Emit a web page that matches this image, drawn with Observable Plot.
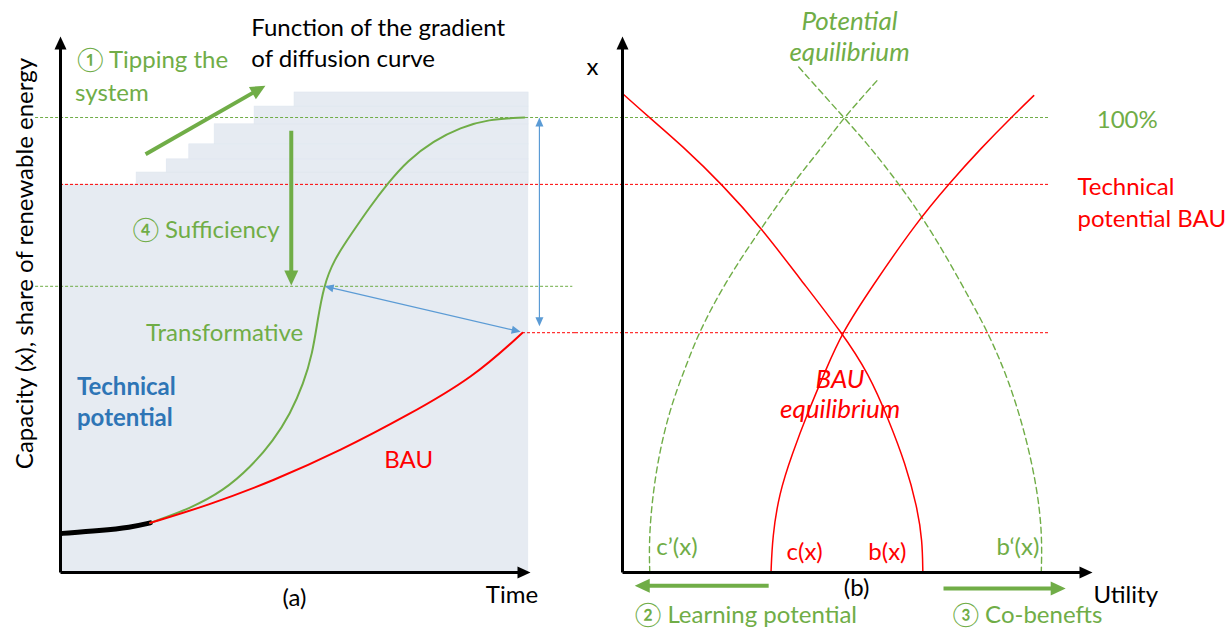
<!DOCTYPE html>
<html><head><meta charset="utf-8">
<script src="https://cdn.jsdelivr.net/npm/d3@7"></script>
<script src="https://cdn.jsdelivr.net/npm/@observablehq/plot@0.6"></script>
<style>
html,body{margin:0;padding:0;background:#fff;}
#wrap{position:relative;width:1228px;height:631px;overflow:hidden;}
#wrap svg{position:absolute;left:0;top:0;}
</style></head>
<body><div id="wrap"></div>
<script>
// ---------------- DATA ----------------
// shared vertical quantity: capacity x / share of renewable energy (%)
const levelFull = 100, levelTechBAU = 85.3, levelSuff = 62.9, levelBAU = 52.7, yAxisTop = 117.8;

// Panel (a): time (0–10) vs capacity share
const legacyTime  = [0.04, 0.85, 1.49, 1.91];
const legacyShare = [8.6, 9.2, 9.9, 10.9];
const bauTime  = [1.91, 3.12, 4.54, 5.96, 7.38, 8.79, 9.83];
const bauShare = [10.9, 14.7, 20.2, 26.8, 34.5, 42.9, 52.7];
const transTime  = [1.91, 2.77, 3.47, 4.04, 4.53, 4.89, 5.17, 5.36, 5.47, 5.60, 5.81, 6.20, 6.58, 6.96, 7.38, 7.94, 8.51, 9.09, 9.87];
const transShare = [10.9, 14.1, 18.0, 23.1, 29.0, 34.9, 41.5, 48.1, 55.4, 62.9, 68.6, 74.6, 80.3, 85.5, 90.5, 94.9, 97.8, 99.6, 100];
const potentialEnd = 9.96;
const stepStart = [1.62, 2.26, 2.74, 3.28, 4.13, 4.98];
const stepTop   = [87.9, 90.8, 94.1, 98.5, 102.4, 105.5];

// Panel (b): utility (0–10) vs capacity x
const bCurveU = [0.03, 0.56, 1.27, 2.12, 2.97, 3.75, 4.67, 5.24, 5.67, 6.02, 6.27, 6.38, 6.39];
const bCurveX = [105.0, 100.1, 93.8, 85.3, 75.5, 64.9, 52.7, 43.7, 33.4, 23.9, 14.4, 7.0, 0];
const cCurveU = [3.16, 3.19, 3.33, 3.61, 3.96, 4.32, 4.67, 5.30, 6.23, 6.94, 7.65, 8.29, 8.75];
const cCurveX = [0, 7.8, 17.3, 26.1, 35.6, 44.4, 52.7, 62.7, 76.6, 85.4, 93.5, 100.2, 104.8];
const cPrimeU = [0.58, 0.56, 0.70, 0.99, 1.34, 1.62, 2.19, 2.94, 3.61, 4.25, 4.71, 5.45];
const cPrimeX = [0, 8.5, 22.4, 35.6, 45.1, 52.7, 63.9, 75.5, 85.4, 93.5, 100, 108.5];
const bPrimeU = [3.75, 4.71, 5.28, 5.88, 6.38, 6.94, 7.44, 7.79, 8.22, 8.57, 8.82, 8.93, 8.91];
const bPrimeX = [111.1, 100, 93.4, 85.4, 78.1, 68.6, 59.1, 52.5, 42.2, 30.5, 18.7, 8.5, 0];

// reference lines per panel
const refLinesA = [
  {y: levelFull, x1: -0.53, x2: 11.0, c: "#70AD47"},
  {y: levelTechBAU, x1: 0, x2: 11.0, c: "#FF0000"},
  {y: levelSuff, x1: -0.53, x2: 10.9, c: "#70AD47"},
  {y: levelBAU, x1: 9.83, x2: 11.0, c: "#FF0000"}
];
const refLinesB = [
  {y: levelFull, x1: -1.0, x2: 9.1, c: "#70AD47"},
  {y: levelTechBAU, x1: -1.0, x2: 9.1, c: "#FF0000"},
  {y: levelBAU, x1: -1.0, x2: 9.1, c: "#FF0000"}
];

// arrows
const arrowsA = [
  {x1: 0, y1: 0, x2: 0, y2: yAxisTop, c: "#000", w: 3, len: 13, half: 6},
  {x1: 0, y1: 0, x2: 10, y2: 0, c: "#000", w: 3, len: 13, half: 6},
  {x1: 1.81, y1: 91.9, x2: 4.36, y2: 107.0, c: "#70AD47", w: 4, len: 15, half: 7},
  {x1: 4.91, y1: 97.1, x2: 4.91, y2: 63.1, c: "#70AD47", w: 4, len: 15, half: 7},
  {x1: 10.19, y1: 54.1, x2: 10.19, y2: 100, c: "#5B9BD5", w: 1.2, len: 9, half: 4, double: true},
  {x1: 5.62, y1: 62.9, x2: 9.79, y2: 52.9, c: "#5B9BD5", w: 1.2, len: 9, half: 4, double: true}
];
const arrowsB = [
  {x1: 0, y1: 0, x2: 0, y2: yAxisTop, c: "#000", w: 3, len: 13, half: 6},
  {x1: 0, y1: 0, x2: 10, y2: 0, c: "#000", w: 3, len: 13, half: 6},
  {x1: 3.11, y1: -2.9, x2: 0.26, y2: -2.9, c: "#70AD47", w: 4, len: 15, half: 7},
  {x1: 6.83, y1: -3.5, x2: 9.43, y2: -3.5, c: "#70AD47", w: 4, len: 15, half: 7}
];

// labels
const labelsA = {
  black: [{x: 4.06, y: 119.6, t: "Function of the gradient"}, {x: 4.06, y: 112.7, t: "of diffusion curve"},
          {x: 9.05, y: -5.1, t: "Time"}],
  blackMid: [{x: 4.98, y: -5.7, t: "(a)"}],
  green: [{x: 0.35, y: 112.5, t: "① Tipping the"}, {x: 0.31, y: 105.3, t: "system"},
          {x: 1.53, y: 75.2, t: "④ Sufficiency"}, {x: 1.82, y: 52.5, t: "Transformative"}],
  blue: [{x: 0.35, y: 40.7, t: "Technical"}, {x: 0.35, y: 33.8, t: "potential"}],
  red: [{x: 6.89, y: 24.6, t: "BAU"}],
  yTitle: [{x: -0.74, y: 67.9, t: "Capacity (x), share of renewable energy"}]
};
const labelsB = {
  black: [{x: 10.02, y: -5.1, t: "Utility"}],
  blackMid: [{x: -0.64, y: 111, t: "x"}, {x: 4.98, y: -3.5, t: "(b)"}],
  green: [{x: 10.09, y: 99.3, t: "100%"}, {x: 0.72, y: 5.5, t: "c’(x)"}, {x: 7.96, y: 5.5, t: "b‘(x)"},
          {x: 0.26, y: -9.4, t: "② Learning potential"}, {x: 7.02, y: -9.4, t: "③ Co-benefts"}],
  greenItalic: [{x: 4.83, y: 121.1, t: "Potential"}, {x: 4.83, y: 114.3, t: "equilibrium"}],
  red: [{x: 9.68, y: 84.6, t: "Technical"}, {x: 9.68, y: 77.6, t: "potential BAU"},
        {x: 3.49, y: 4.4, t: "c(x)"}, {x: 5.23, y: 4.4, t: "b(x)"}],
  redItalic: [{x: 4.63, y: 42.4, t: "BAU"}, {x: 4.63, y: 35.8, t: "equilibrium"}]
};

// ---------------- LAYOUT ----------------
const W = 1228, H = 631;
const mTop = 117, mBottom = 59;
const sy = (H - mTop - mBottom) / 100;
const FONT = "Lato, 'Noto Sans', sans-serif";
const FS = 24;
const GREEN = "#70AD47", RED = "#FF0000", BLUE = "#2E75B6";
const CURVE = "basis";

function arrowMarks(list, sx) {
  const marks = [];
  for (const a of list) {
    const dx = (a.x2 - a.x1) * sx, dy = (a.y2 - a.y1) * sy;
    const L = Math.hypot(dx, dy), ux = dx / L, uy = dy / L;
    const head = (x, y, vx, vy) => {
      const bx = -vx * a.len, by = -vy * a.len, px = -vy * a.half, py = vx * a.half;
      return [{x, y}, {x: x + (bx + px) / sx, y: y + (by + py) / sy}, {x: x + (bx - px) / sx, y: y + (by - py) / sy}];
    };
    const k = a.len * 0.8;
    const s = {x1: a.x1, y1: a.y1, x2: a.x2 - ux * k / sx, y2: a.y2 - uy * k / sy};
    marks.push(Plot.line(head(a.x2, a.y2, ux, uy), {x: "x", y: "y", fill: a.c, stroke: "none"}));
    if (a.double) {
      s.x1 = a.x1 + ux * k / sx; s.y1 = a.y1 + uy * k / sy;
      marks.push(Plot.line(head(a.x1, a.y1, -ux, -uy), {x: "x", y: "y", fill: a.c, stroke: "none"}));
    }
    marks.push(Plot.link([s], {x1: "x1", y1: "y1", x2: "x2", y2: "y2", stroke: a.c, strokeWidth: a.w}));
  }
  return marks;
}
const txt = (arr, o) => Plot.text(arr, {x: "x", y: "y", text: "t", fontSize: FS, textAnchor: "start", fill: "#000", ...o});
const rules = (arr) => arr.map(r => Plot.ruleY([r], {y: "y", x1: "x1", x2: "x2", stroke: r.c, strokeWidth: 1, strokeDasharray: "3,2"}));

// ---------------- PANEL (a) ----------------
const mLeftA = 60, mRightA = W - 530;
const sxA = (W - mLeftA - mRightA) / 10;
const steps = stepStart.map((s, i) => ({x1: s, x2: potentialEnd, y1: i === 0 ? levelTechBAU : stepTop[i - 1], y2: stepTop[i]}));
const plotA = Plot.plot({
  width: W, height: H,
  marginLeft: mLeftA, marginRight: mRightA, marginTop: mTop, marginBottom: mBottom,
  x: {domain: [0, 10], axis: null},
  y: {domain: [0, 100], axis: null},
  style: {background: "transparent", fontFamily: FONT, overflow: "visible"},
  marks: [
    Plot.rect([{x1: 0, x2: potentialEnd, y1: 0, y2: levelTechBAU}], {x1: "x1", x2: "x2", y1: "y1", y2: "y2", fill: "#E6EBF2"}),
    Plot.rect(steps, {x1: "x1", x2: "x2", y1: "y1", y2: "y2", fill: "#E6EBF2", stroke: "#DFE6EF", strokeWidth: 0.6}),
    ...rules(refLinesA),
    Plot.line(legacyTime.map((t, i) => ({t, s: legacyShare[i]})), {x: "t", y: "s", stroke: "#000", strokeWidth: 5, curve: CURVE}),
    Plot.line(transTime.map((t, i) => ({t, s: transShare[i]})), {x: "t", y: "s", stroke: GREEN, strokeWidth: 2, curve: CURVE}),
    Plot.line(bauTime.map((t, i) => ({t, s: bauShare[i]})), {x: "t", y: "s", stroke: RED, strokeWidth: 2, curve: CURVE}),
    ...arrowMarks(arrowsA, sxA),
    txt(labelsA.black, {}),
    txt(labelsA.blackMid, {textAnchor: "middle"}),
    txt(labelsA.green, {fill: GREEN}),
    txt(labelsA.blue, {fill: BLUE, fontWeight: "bold"}),
    txt(labelsA.red, {fill: RED}),
    txt(labelsA.yTitle, {textAnchor: "middle", rotate: -90, fontSize: 24})
  ]
});

// ---------------- PANEL (b) ----------------
const mLeftB = 622, mRightB = W - 1092;
const sxB = (W - mLeftB - mRightB) / 10;
const pts = (us, xs) => us.map((u, i) => ({u, x: xs[i]}));
const plotB = Plot.plot({
  width: W, height: H,
  marginLeft: mLeftB, marginRight: mRightB, marginTop: mTop, marginBottom: mBottom,
  x: {domain: [0, 10], axis: null},
  y: {domain: [0, 100], axis: null},
  style: {background: "transparent", fontFamily: FONT, overflow: "visible"},
  marks: [
    ...rules(refLinesB),
    Plot.line(pts(cPrimeU, cPrimeX), {x: "u", y: "x", stroke: GREEN, strokeWidth: 1.4, strokeDasharray: "6,4", curve: CURVE}),
    Plot.line(pts(bPrimeU, bPrimeX), {x: "u", y: "x", stroke: GREEN, strokeWidth: 1.4, strokeDasharray: "6,4", curve: CURVE}),
    Plot.line(pts(bCurveU, bCurveX), {x: "u", y: "x", stroke: RED, strokeWidth: 1.5, curve: CURVE}),
    Plot.line(pts(cCurveU, cCurveX), {x: "u", y: "x", stroke: RED, strokeWidth: 1.5, curve: CURVE}),
    ...arrowMarks(arrowsB, sxB),
    txt(labelsB.black, {}),
    txt(labelsB.blackMid, {textAnchor: "middle"}),
    txt(labelsB.green, {fill: GREEN}),
    txt(labelsB.greenItalic, {fill: GREEN, fontStyle: "italic", textAnchor: "middle", fontSize: 26}),
    txt(labelsB.red, {fill: RED}),
    txt(labelsB.redItalic, {fill: RED, fontStyle: "italic", textAnchor: "middle", fontSize: 26})
  ]
});

const wrap = document.getElementById("wrap");
wrap.appendChild(plotA);
wrap.appendChild(plotB);
</script>
</body></html>
